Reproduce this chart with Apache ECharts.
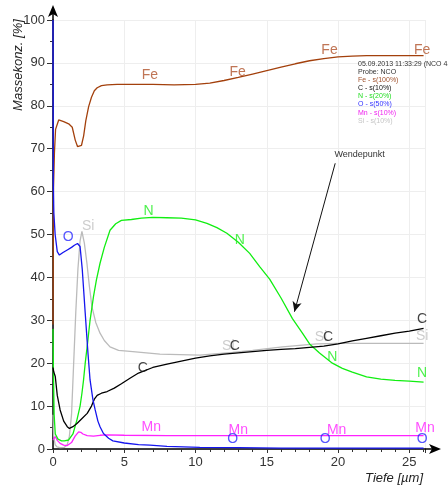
<!DOCTYPE html>
<html><head><meta charset="utf-8">
<script src="https://cdn.jsdelivr.net/npm/echarts@6/dist/echarts.min.js"></script>
<style>html,body{margin:0;padding:0;background:#fff}#c{width:448px;height:491px}</style>
</head><body><div id="c"></div>
<script>
// ---- axes ----
const X_MAX = 26.1;
const Y_MAX = 100;
const xTickStep = 5;
const yTickStep = 10;

// ---- series (depth in µm, mass concentration in %) ----
const feDepth = [0,0.03,0.1,0.18,0.4,0.75,1.1,1.35,1.56,1.72,1.84,2.0,2.15,2.3,2.5,2.7,2.9,3.1,3.4,3.8,4.5,5.5,7,8.5,10,11,12,13,14,15,16,17,18,19,20,21,22,23,24,25,26];
const feVal   = [29,60,69,74.5,76.7,76.3,75.8,75,72,70.5,70.1,70.8,73,76.5,79.8,82,83.5,84.2,84.7,84.9,85,85,85,84.9,85,85.3,85.9,86.6,87.4,88.2,89.0,89.8,90.5,91.0,91.4,91.6,91.7,91.7,91.7,91.7,91.7];

const cDepth = [0,0.05,0.16,0.3,0.5,0.75,1.0,1.15,1.4,1.7,2.0,2.4,2.7,2.9,3.1,3.4,3.8,4.3,4.8,5.4,6,7,8,9,10,11,12,13,14,15,16,17,18,19,20,21,22,23,24,25,26];
const cVal   = [19,18,16.9,12.5,9.1,6.5,5.2,4.8,5.2,6.0,7.0,8.3,10,11.6,12.5,13.0,13.4,14.2,15.2,16.5,17.7,19.0,19.8,20.5,21.2,21.7,22.1,22.4,22.7,23.0,23.2,23.4,23.7,24.0,24.5,25.2,25.8,26.4,27.0,27.5,28.1];

const nDepth = [0,0.03,0.08,0.16,0.35,0.6,0.8,1.1,1.4,1.68,1.9,2.03,2.14,2.26,2.42,2.6,2.84,3.05,3.3,3.6,4.0,4.4,4.8,5.5,6.2,7,8,9,10,10.8,11.5,12.2,13,13.8,14.5,15.2,16,16.8,17.5,18.0,18.7,19.6,20.3,21,22,23,24,25,26];
const nVal   = [28,18,8,3.5,2.3,1.9,1.9,2.1,3.5,6.8,10,13,16,20,24.5,30,35.5,39.5,43.3,47,51,52.5,53.3,53.5,53.8,54,53.9,53.8,53.4,52.6,51.6,50.3,48.2,45.6,42.5,39.6,35.2,30.4,27.0,24.5,22.4,20.0,18.8,17.9,16.8,16.3,16.0,15.8,15.6];

const oDepth = [0,0.02,0.06,0.15,0.3,0.45,0.7,1.0,1.3,1.5,1.72,1.9,2.05,2.26,2.45,2.6,2.8,2.96,3.15,3.3,3.54,3.9,4.2,5,6,6.8,8,10.3,13,16,20,23,26];
const oVal   = [100,62,55,50,46,45.2,45.8,46.4,47,47.5,47.9,47.2,42,31.7,22.5,16.1,11.5,9.1,6.5,5.2,3.6,2.5,1.9,1.4,1.0,0.9,0.6,0.4,0.3,0.2,0.2,0.2,0.2];

const mnDepth = [0,0.16,0.3,0.5,0.75,1.0,1.3,1.55,1.8,1.95,2.1,2.4,2.84,3.3,3.8,5,8,12,16,20,24,26];
const mnVal   = [2.1,2.9,2.0,1.3,0.9,0.8,1.5,3.0,4.0,3.9,3.5,3.1,3.0,3.2,3.3,3.2,3.1,3.1,3.1,3.1,3.1,3.1];

const siDepth = [0,0.05,0.15,0.28,0.5,0.8,1.0,1.15,1.3,1.45,1.6,1.75,1.9,2.03,2.2,2.38,2.55,2.73,3.0,3.3,3.6,4.0,4.6,5.6,7.5,10.3,12.6,14,16.1,18.5,20,22,24,26];
const siVal   = [8,3,1,0.5,0.3,0.4,1.0,3,8,20,32,42,48.5,50.7,48,43.3,38,33.2,29.5,27,25.3,23.8,23.0,22.7,22.1,21.9,22.5,23.0,23.8,24.5,24.6,24.6,24.6,24.6];

// ---- in-plot element labels [depth, value] ----
const feLabels = [[6.8,87.2],[12.95,87.9],[19.4,93],[25.9,93]];
const cLabels  = [[6.3,18.9],[12.75,24],[19.3,26.1],[25.9,30.3]];
const nLabels  = [[6.7,55.5],[13.1,48.7],[19.6,21.4],[25.9,17.7]];
const oLabels  = [[1.07,49.4],[12.6,2.3],[19.1,2.3],[25.9,2.3]];
const mnLabels = [[6.9,5.1],[13,4.4],[19.9,4.4],[26.1,4.9]];
const siLabels = [[2.47,52],[12.3,24],[18.8,26.1],[25.9,26.3]];

// ---- annotation ----
const wendeFrom = [19.8, 66.6];
const wendeTo   = [16.94, 32];
const wendeText = [19.75, 67.5];
const infoLines = ['05.09.2013 11:33:29 (NCO 4a)','Probe: NCO','Fe - s(100%)','C - s(10%)','N - s(20%)','O - s(50%)','Mn - s(10%)','Si - s(10%)'];
const infoColors = ['#333','#333','#a0522d','#111','#22dd22','#3333ff','#ee22ee','#c4c4c4'];

const FONT = 'Liberation Sans, Arial, sans-serif';
const zip = (a,b) => a.map((x,i)=>[x,b[i]]);

function lineSeries(name, xs, ys, color, z, extra) {
  return Object.assign({
    name, type:'line', data: zip(xs,ys), showSymbol:false, symbol:'none',
    lineStyle:{color, width:1.3}, itemStyle:{color}, z, silent:true, animation:false
  }, extra||{});
}
function labelSeries(name, pts, color) {
  return {
    type:'scatter', data: pts, symbol:'circle', symbolSize:1, silent:true, animation:false, z:10,
    itemStyle:{color:'rgba(0,0,0,0)'},
    label:{show:true, position:'inside', formatter:name, color, fontSize:14, fontFamily:FONT}
  };
}

const chart = echarts.init(document.getElementById('c'), null, {renderer:'canvas'});
const option = {
  animation:false,
  grid:{left:53, right:23, top:20, bottom:42, containLabel:false},
  xAxis:{
    type:'value', min:0, max:X_MAX, interval:xTickStep,
    axisLine:{lineStyle:{color:'#000', width:1.5}},
    axisTick:{show:true, length:4, lineStyle:{color:'#333'}},
    minorTick:{show:true, splitNumber:5, length:3, lineStyle:{color:'#333'}},
    axisLabel:{color:'#333', fontSize:13, fontFamily:FONT, margin:7,
      formatter:v => (Math.abs(v % xTickStep) < 1e-9 ? String(v) : '')},
    splitLine:{show:true, lineStyle:{color:'#eeeeee', width:1}}
  },
  yAxis:{
    type:'value', min:0, max:Y_MAX, interval:yTickStep,
    axisLine:{show:true, lineStyle:{color:'#000', width:1.5}},
    axisTick:{show:true, length:6, lineStyle:{color:'#333'}},
    minorTick:{show:true, splitNumber:2, length:3, lineStyle:{color:'#333'}},
    axisLabel:{color:'#333', fontSize:13, fontFamily:FONT, margin:8},
    splitLine:{show:true, lineStyle:{color:'#eeeeee', width:1}}
  },
  series:[
    lineSeries('Si', siDepth, siVal, '#bbbbbb', 2),
    lineSeries('Mn', mnDepth, mnVal, '#ff22ff', 3),
    lineSeries('N', nDepth, nVal, '#11ee11', 4, {
      markLine:{silent:true, animation:false, symbol:['none','arrow'], symbolSize:[7,10],
        lineStyle:{color:'#111', width:1, type:'solid'}, label:{show:false},
        data:[[{coord:wendeFrom},{coord:wendeTo}]]}
    }),
    lineSeries('C', cDepth, cVal, '#000000', 5),
    lineSeries('Fe', feDepth, feVal, '#a3400c', 6),
    lineSeries('O', oDepth, oVal, '#1515ee', 7),
    labelSeries('Si', siLabels, '#c0c0c0'),
    labelSeries('Mn', mnLabels, '#ff22ff'),
    labelSeries('N', nLabels, '#22ee22'),
    labelSeries('C', cLabels, '#111111'),
    labelSeries('Fe', feLabels, '#b0522a'),
    labelSeries('O', oLabels, '#2a2aff')
  ]
};
chart.setOption(option);

const xe = chart.convertToPixel({gridIndex:0},[X_MAX,0]);
const yt = chart.convertToPixel({gridIndex:0},[0,Y_MAX]);
const wt = chart.convertToPixel({gridIndex:0}, wendeText);

const graphics = [
  {type:'line', shape:{x1:xe[0], y1:xe[1], x2:xe[0]+8, y2:xe[1]}, style:{stroke:'#000', lineWidth:1.5}, z:20},
  {type:'polygon', shape:{points:[[xe[0]+16,xe[1]],[xe[0]+4,xe[1]-5],[xe[0]+7,xe[1]],[xe[0]+4,xe[1]+5]]}, style:{fill:'#000'}, z:20},
  {type:'line', shape:{x1:yt[0], y1:yt[1], x2:yt[0], y2:yt[1]-8}, style:{stroke:'#000', lineWidth:1.5}, z:20},
  {type:'polygon', shape:{points:[[yt[0],yt[1]-15],[yt[0]-5,yt[1]-3],[yt[0],yt[1]-6],[yt[0]+5,yt[1]-3]]}, style:{fill:'#000'}, z:20},
  {type:'text', x:18, y:65, rotation:Math.PI/2, z:20,
    style:{text:'Massekonz. [%]', font:'italic 13px '+FONT, fill:'#222', align:'center', verticalAlign:'middle', textAlign:'center', textVerticalAlign:'middle'}},
  {type:'text', x:423, y:478, z:20,
    style:{text:'Tiefe [µm]', font:'italic 13px '+FONT, fill:'#222', align:'right', verticalAlign:'middle', textAlign:'right', textVerticalAlign:'middle'}},
  {type:'text', x:wt[0], y:wt[1], z:20,
    style:{text:'Wendepunkt', font:'9px '+FONT, fill:'#333', align:'left', verticalAlign:'bottom', textAlign:'left', textVerticalAlign:'bottom'}}
];
infoLines.forEach((t,i)=>{
  graphics.push({type:'text', x:358, y:64 + i*8.1, z:20,
    style:{text:t, font:'7px '+FONT, fill:infoColors[i], align:'left', verticalAlign:'middle', textAlign:'left', textVerticalAlign:'middle'}});
});
chart.setOption({graphic:graphics});
</script></body></html>
